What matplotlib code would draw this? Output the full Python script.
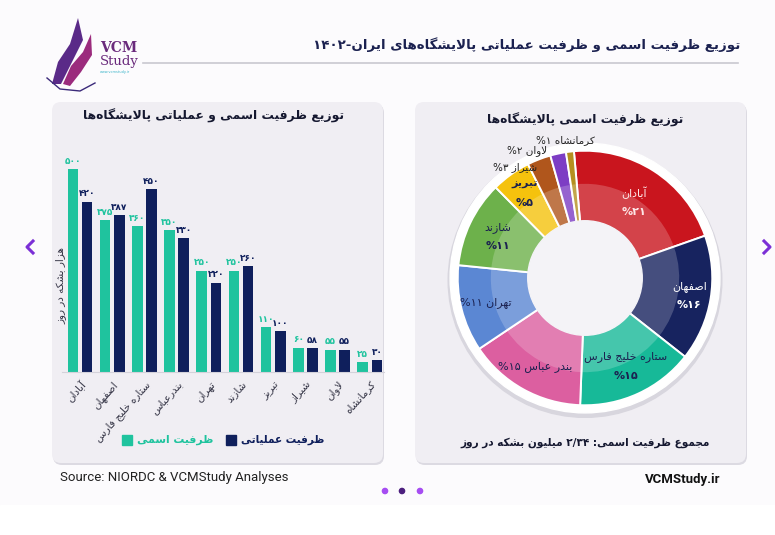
import numpy as np
import matplotlib
matplotlib.use("Agg")
import matplotlib.pyplot as plt
from matplotlib.patches import FancyBboxPatch, Rectangle, Circle, Wedge, Polygon

# ---- داده‌ها ----
refineries = ["آبادان", "اصفهان", "ستاره خلیج فارس", "بندرعباس", "تهران",
              "شازند", "تبریز", "شیراز", "لاوان", "کرمانشاه"]
nominal = [500, 375, 360, 350, 250, 250, 110, 60, 55, 25]
operational = [420, 387, 450, 330, 220, 260, 100, 58, 55, 30]

pie_names = ["آبادان", "اصفهان", "ستاره خلیج فارس", "بندر عباس", "تهران",
             "شازند", "تبریز", "شیراز", "لاوان", "کرمانشاه"]
pie_share = [21, 16, 15, 15, 11, 11, 5, 3, 2, 1]
pie_colors = ["#c9151e", "#17235f", "#17b998", "#dc5fa0", "#5b87d3",
              "#6db14b", "#f5c20d", "#b0561c", "#7d3dc4", "#b58f1f"]

TEAL = "#1fc39e"
NAVY = "#0f1f5c"
TEXT = "#1b2150"
PANEL = "#f0eef3"

# ---- شکل‌دهی ساده حروف فارسی (matplotlib خودش متن راست‌به‌چپ را نمی‌چیند) ----
FORMS = {
    "ا": ("\uFE8D", "\uFE8E", None, None), "آ": ("\uFE81", "\uFE82", None, None),
    "ب": ("\uFE8F", "\uFE90", "\uFE91", "\uFE92"), "پ": ("\uFB56", "\uFB57", "\uFB58", "\uFB59"),
    "ت": ("\uFE95", "\uFE96", "\uFE97", "\uFE98"), "ث": ("\uFE99", "\uFE9A", "\uFE9B", "\uFE9C"),
    "ج": ("\uFE9D", "\uFE9E", "\uFE9F", "\uFEA0"), "چ": ("\uFB7A", "\uFB7B", "\uFB7C", "\uFB7D"),
    "ح": ("\uFEA1", "\uFEA2", "\uFEA3", "\uFEA4"), "خ": ("\uFEA5", "\uFEA6", "\uFEA7", "\uFEA8"),
    "د": ("\uFEA9", "\uFEAA", None, None), "ذ": ("\uFEAB", "\uFEAC", None, None),
    "ر": ("\uFEAD", "\uFEAE", None, None), "ز": ("\uFEAF", "\uFEB0", None, None),
    "ژ": ("\uFB8A", "\uFB8B", None, None),
    "س": ("\uFEB1", "\uFEB2", "\uFEB3", "\uFEB4"), "ش": ("\uFEB5", "\uFEB6", "\uFEB7", "\uFEB8"),
    "ص": ("\uFEB9", "\uFEBA", "\uFEBB", "\uFEBC"), "ض": ("\uFEBD", "\uFEBE", "\uFEBF", "\uFEC0"),
    "ط": ("\uFEC1", "\uFEC2", "\uFEC3", "\uFEC4"), "ظ": ("\uFEC5", "\uFEC6", "\uFEC7", "\uFEC8"),
    "ع": ("\uFEC9", "\uFECA", "\uFECB", "\uFECC"), "غ": ("\uFECD", "\uFECE", "\uFECF", "\uFED0"),
    "ف": ("\uFED1", "\uFED2", "\uFED3", "\uFED4"), "ق": ("\uFED5", "\uFED6", "\uFED7", "\uFED8"),
    "ک": ("\uFB8E", "\uFB8F", "\uFB90", "\uFB91"), "گ": ("\uFB92", "\uFB93", "\uFB94", "\uFB95"),
    "ل": ("\uFEDD", "\uFEDE", "\uFEDF", "\uFEE0"), "م": ("\uFEE1", "\uFEE2", "\uFEE3", "\uFEE4"),
    "ن": ("\uFEE5", "\uFEE6", "\uFEE7", "\uFEE8"), "و": ("\uFEED", "\uFEEE", None, None),
    "ه": ("\uFEE9", "\uFEEA", "\uFEEB", "\uFEEC"), "ی": ("\uFBFC", "\uFBFD", "\uFBFE", "\uFBFF"),
}
DIGITS = set("۰۱۲۳۴۵۶۷۸۹0123456789/")


def joins_next(t):
    return t != "LA" and t in FORMS and FORMS[t][2] is not None


def joins_prev(t):
    return t == "LA" or t in FORMS


def shape(s):
    toks, i = [], 0
    while i < len(s):
        if s[i] == "ل" and i + 1 < len(s) and s[i + 1] == "ا":
            toks.append("LA")
            i += 2
        else:
            toks.append(s[i])
            i += 1
    res = []
    for k, t in enumerate(toks):
        jp = k > 0 and joins_next(toks[k - 1]) and joins_prev(t)
        jn = k + 1 < len(toks) and joins_next(t) and joins_prev(toks[k + 1])
        if t == "LA":
            res.append("\uFEFC" if jp else "\uFEFB")
        elif t in FORMS:
            f = FORMS[t]
            res.append(f[3] if jp and jn else f[1] if jp else f[2] if jn else f[0])
        elif t == "\u200c":
            continue
        else:
            res.append(t)
    return "".join(res)


def fa(s):
    # شکل‌دهی + ترتیب دیداری، اعداد چپ‌به‌راست می‌مانند
    lines = []
    for line in s.split("\n"):
        rev = shape(line)[::-1]
        out, run = [], []
        for ch in rev:
            if ch in DIGITS:
                run.append(ch)
            else:
                out.extend(run[::-1])
                run = []
                out.append(ch)
        out.extend(run[::-1])
        lines.append("".join(out))
    return "\n".join(lines)


def fa_num(v):
    return str(v).translate(str.maketrans("0123456789", "۰۱۲۳۴۵۶۷۸۹"))


plt.rcParams["font.family"] = ["DejaVu Sans"]

W, H = 775, 535
fig = plt.figure(figsize=(W / 100, H / 100), dpi=100)
fig.patch.set_facecolor("#fcfbfd")

# پس‌زمینه با مختصات پیکسلی
bg = fig.add_axes([0, 0, 1, 1], zorder=0)
bg.set_xlim(0, W)
bg.set_ylim(H, 0)
bg.axis("off")

bg.add_patch(Rectangle((0, 505), W, 30, color="white", zorder=0))
for x0 in (52, 415):
    bg.add_patch(FancyBboxPatch((x0 + 1, 104), 331, 361, boxstyle="round,pad=0,rounding_size=9",
                                fc="#dcdae2", ec="none", zorder=1))
    bg.add_patch(FancyBboxPatch((x0, 102), 331, 361, boxstyle="round,pad=0,rounding_size=9",
                                fc=PANEL, ec="none", zorder=2))

# لوگو
bg.add_patch(Polygon([(52, 84), (58, 62), (70, 44), (78, 18), (83, 40), (72, 62), (61, 84)],
                     closed=True, fc="#5a2a88", ec="none", zorder=3))
bg.add_patch(Polygon([(63, 84), (71, 66), (83, 52), (91, 34), (92, 55), (81, 72), (70, 86)],
                     closed=True, fc="#9b2b7d", ec="none", zorder=3))
bg.plot([47, 60, 80, 95], [78, 89, 91, 83], color="#3b2a7a", lw=1.0, zorder=3)
bg.text(100, 48, "VCM", fontsize=10, fontweight="bold", family="DejaVu Serif",
        color="#6a2a7c", va="center", zorder=4)
bg.text(100, 62, "Study", fontsize=9.5, family="DejaVu Serif", color="#6a2a7c", va="center", zorder=4)
bg.text(100, 72, "www.vcmstudy.ir", fontsize=2.5, color="#39b4c9", va="center", zorder=4)

# عنوان اصلی
bg.text(740, 45, fa("توزیع ظرفیت اسمی و ظرفیت عملیاتی پالایشگاه\u200cهای ایران-۱۴۰۲"),
        fontsize=9.6, fontweight="bold", color=TEXT, ha="right", va="center", zorder=4)
bg.plot([143, 738], [63, 63], color="#c9c8d0", lw=1.2, zorder=3)

# فلش‌ها و نقطه‌ها
bg.plot([33, 27, 33], [241, 247, 253], color="#7b2fd6", lw=2.2, zorder=4)
bg.plot([764, 770, 764], [241, 247, 253], color="#7b2fd6", lw=2.2, zorder=4)
for xd, cd in zip([385, 402, 420], ["#a64df2", "#4c1f7e", "#a64df2"]):
    bg.add_patch(Circle((xd, 491), 2.6, color=cd, zorder=4))

bg.text(60, 478, "Source: NIORDC & VCMStudy Analyses", fontsize=9.5, family="Roboto",
        color="#222222", va="center", zorder=4)
bg.text(720, 480, "VCMStudy.ir", fontsize=9.5, family="Roboto", fontweight="bold",
        color="#111111", ha="right", va="center", zorder=4)

# ---- نمودار میله‌ای ----
ax = fig.add_axes([62 / W, 1 - 372 / H, (384 - 62) / W, (372 - 150) / H], zorder=2)
ax.patch.set_alpha(0)
x = np.arange(len(refineries))
bw = 0.33
off = 0.22
ax.bar(x - off, nominal, bw, color=TEAL, zorder=2)
ax.bar(x + off, operational, bw, color=NAVY, zorder=2)
for xi, v in zip(x, nominal):
    ax.text(xi - off, v + 8, fa_num(v), ha="center", va="bottom", fontsize=6.5,
            fontweight="bold", color=TEAL)
for xi, v in zip(x, operational):
    ax.text(xi + off, v + 8, fa_num(v), ha="center", va="bottom", fontsize=6.5,
            fontweight="bold", color=NAVY)
ax.set_xlim(-0.56, 9.44)
ax.set_ylim(0, 547)
ax.set_xticks(x)
ax.set_xticklabels([fa(r) for r in refineries], rotation=48, ha="right", va="top",
                   rotation_mode="anchor", fontsize=7.5, color="#333344")
ax.tick_params(axis="x", length=0, pad=5)
ax.set_yticks([])
for s in ["top", "left", "right"]:
    ax.spines[s].set_visible(False)
ax.spines["bottom"].set_color("#d4d2da")
ax.set_ylabel(fa("هزار بشکه در روز"), fontsize=7.5, color="#333344")
ax.yaxis.set_label_coords(0.015, 0.39)

bg.text(214, 116, fa("توزیع ظرفیت اسمی و عملیاتی پالایشگاه\u200cها"), fontsize=8.9,
        fontweight="bold", color="#151830", ha="center", va="center", zorder=4)

# راهنما
bg.add_patch(Rectangle((122, 435), 10, 10, color=TEAL, zorder=4))
bg.text(137, 440, fa("ظرفیت اسمی"), fontsize=7.8, fontweight="bold", color=TEAL,
        va="center", zorder=4)
bg.add_patch(Rectangle((226, 435), 10, 10, color=NAVY, zorder=4))
bg.text(241, 440, fa("ظرفیت عملیاتی"), fontsize=7.6, fontweight="bold", color=NAVY,
        va="center", zorder=4)

# ---- نمودار دونات ----
cx, cy = 585, 278
pax = fig.add_axes([(cx - 140) / W, 1 - (cy + 140) / H, 280 / W, 280 / H], zorder=2)

wedges, _ = pax.pie(pie_share, colors=pie_colors, startangle=95, counterclock=False,
                    radius=1.0, wedgeprops=dict(edgecolor="white", linewidth=1.4))
pax.set_xlim(-1.1, 1.1)
pax.set_ylim(-1.1, 1.1)
pax.set_aspect("equal")
pax.axis("off")

pax.add_patch(Circle((0, -0.02), 1.075, color="#d8d6de", zorder=0))
pax.add_patch(Circle((0, 0), 1.06, color="white", zorder=1))
for w in wedges:
    w.set_zorder(2)
    pax.add_patch(Wedge((0, 0), 0.74, w.theta1, w.theta2, width=0.3,
                        fc="white", alpha=0.2, ec="none", zorder=3))
pax.add_patch(Circle((0, 0), 0.45, color="#f4f3f7", zorder=4))

label_mode = ["stack", "stack", "stack", "inline", "inline", "stack", "stack",
              "out", "out", "out"]
label_r = [0.71, 0.83, 0.76, 0.8, 0.8, 0.76, 0.82, 0, 0, 0]
label_color = ["#fde6e6", "white", TEXT, TEXT, TEXT, TEXT, TEXT, "#222", "#222", "#222"]
out_pos = {7: (-0.38, 0.87), 8: (-0.30, 1.00), 9: (0.08, 1.08)}

for i, w in enumerate(wedges):
    mid = np.deg2rad((w.theta1 + w.theta2) / 2)
    pct = fa_num(pie_share[i])
    if label_mode[i] == "stack":
        lx, ly = label_r[i] * np.cos(mid), label_r[i] * np.sin(mid)
        bold = "bold" if i == 6 else "normal"
        pax.text(lx, ly + 0.07, fa(pie_names[i]), ha="center", va="center", fontsize=8,
                 color=label_color[i], fontweight=bold, zorder=5)
        pax.text(lx, ly - 0.08, "%" + pct, ha="center", va="center", fontsize=8,
                 color=label_color[i], fontweight="bold", zorder=5)
    elif label_mode[i] == "inline":
        lx, ly = label_r[i] * np.cos(mid), label_r[i] * np.sin(mid)
        pax.text(lx, ly, fa(pie_names[i] + " " + pct + "%"), ha="center", va="center",
                 fontsize=8, color=label_color[i], zorder=5)
    else:
        lx, ly = out_pos[i]
        pax.text(lx, ly, fa(pie_names[i] + " " + pct + "%"), ha="right", va="center",
                 fontsize=7.5, color=label_color[i], zorder=5)

bg.text(585, 120, fa("توزیع ظرفیت اسمی پالایشگاه\u200cها"), fontsize=8.9, fontweight="bold",
        color="#151830", ha="center", va="center", zorder=4)
bg.text(585, 443, fa("مجموع ظرفیت اسمی: ۲/۳۴ میلیون بشکه در روز"), fontsize=7.6,
        fontweight="bold", color="#151830", ha="center", va="center", zorder=4)

fig.savefig("out.png", dpi=100, facecolor=fig.get_facecolor())
